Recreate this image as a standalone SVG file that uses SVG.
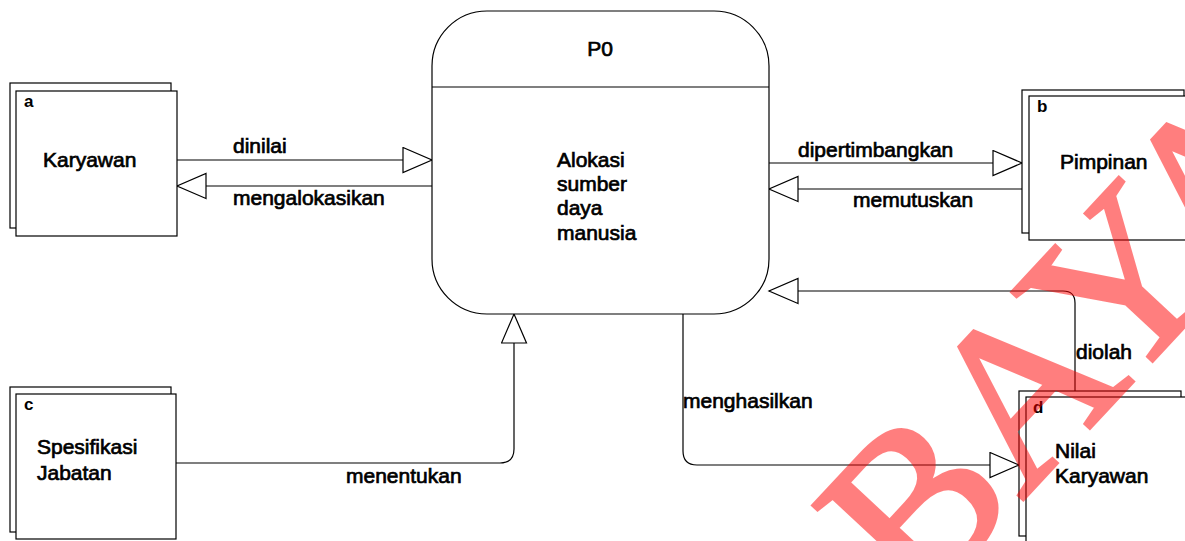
<svg xmlns="http://www.w3.org/2000/svg" width="1185" height="541" viewBox="0 0 1185 541">
<style>
.box{fill:#fff;stroke:#000;stroke-width:1.2}
.ln{fill:none;stroke:#000;stroke-width:1.2}
.t{font-family:"Liberation Sans",Arial,sans-serif;font-size:21px;fill:#000;stroke:#000;stroke-width:0.7}
.id{font-family:"Liberation Sans",Arial,sans-serif;font-size:17px;font-weight:bold;fill:#000}
.wm{font-family:"Liberation Serif","Times New Roman",serif;font-size:228px;fill:#ff0000;stroke:#ff0000;stroke-width:4}
</style>
<defs>
<marker id="arr" markerUnits="userSpaceOnUse" markerWidth="32" markerHeight="28" refX="30" refY="13.5" orient="auto" viewBox="0 0 32 28">
<path d="M1,1 L30,13.5 L1,26 Z" fill="#fff" stroke="#000" stroke-width="1.2"/>
</marker>
</defs>
<rect width="1185" height="541" fill="#fff"/>

<g id="connectors">
<path class="ln" d="M177,160 H432" marker-end="url(#arr)"/>
<path class="ln" d="M432,186 H177" marker-end="url(#arr)"/>
<path class="ln" d="M769,163 H1022" marker-end="url(#arr)"/>
<path class="ln" d="M1022,189 H769" marker-end="url(#arr)"/>
<path class="ln" d="M1075,391 V303 Q1075,291 1063,291 H769" marker-end="url(#arr)"/>
<path class="ln" d="M683,314 V451 Q683,465 697,465 H1019" marker-end="url(#arr)"/>
<path class="ln" d="M176,463 H500 Q514,463 514,449 V314" marker-end="url(#arr)"/>
<text class="t" x="233" y="153">dinilai</text>
<text class="t" x="233" y="205">mengalokasikan</text>
<text class="t" x="798" y="157">dipertimbangkan</text>
<text class="t" x="853" y="207">memutuskan</text>
<text class="t" x="1076" y="359">diolah</text>
<text class="t" x="683" y="408">menghasilkan</text>
<text class="t" x="346" y="483">menentukan</text>
</g>

<g id="P0">
<rect class="box" x="432" y="11" width="337" height="303" rx="55" ry="55"/>
<line class="ln" x1="432" y1="87" x2="769" y2="87"/>
<text class="t" x="600" y="56" text-anchor="middle">P0</text>
<text class="t" x="557" y="167">Alokasi</text>
<text class="t" x="557" y="191">sumber</text>
<text class="t" x="557" y="215">daya</text>
<text class="t" x="557" y="240">manusia</text>
</g>

<g id="a">
<rect class="box" x="10" y="83" width="161" height="145"/>
<rect class="box" x="16" y="91" width="161" height="145"/>
<text class="id" x="24" y="107">a</text>
<text class="t" x="43" y="167">Karyawan</text>
</g>

<g id="b">
<rect class="box" x="1022" y="90" width="162" height="143"/>
<rect class="box" x="1029" y="96" width="170" height="144"/>
<text class="id" x="1037" y="112">b</text>
<text class="t" x="1060" y="169">Pimpinan</text>
</g>

<g id="c">
<rect class="box" x="10" y="387" width="161" height="145"/>
<rect class="box" x="16" y="394" width="160" height="145"/>
<text class="id" x="24" y="410">c</text>
<text class="t" x="37" y="454">Spesifikasi</text>
<text class="t" x="37" y="480">Jabatan</text>
</g>

<g id="d">
<rect class="box" x="1019" y="391" width="162" height="145"/>
<rect class="box" x="1026" y="397" width="170" height="150"/>
<text class="id" x="1033" y="413">d</text>
<text class="t" x="1055" y="458">Nilai</text>
<text class="t" x="1055" y="483">Karyawan</text>
</g>

<g id="watermark" opacity="0.5">
<text class="wm" transform="translate(918,612) rotate(-47)" x="0" y="0">BAYA</text>
</g>
</svg>
